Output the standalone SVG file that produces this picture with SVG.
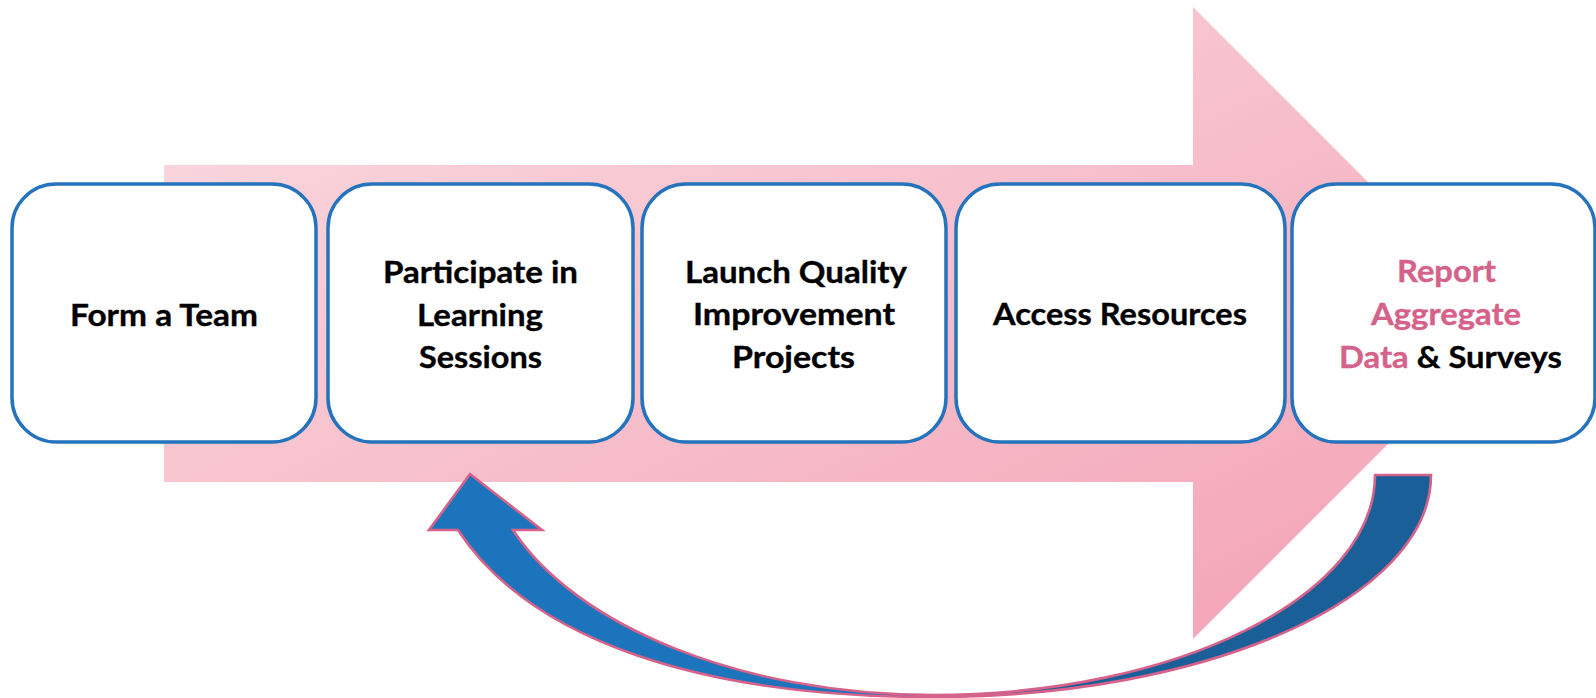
<svg xmlns="http://www.w3.org/2000/svg" width="1596" height="698" viewBox="0 0 1596 698">
  <defs>
    <linearGradient id="pinkGrad" x1="0" y1="0" x2="1" y2="1">
      <stop offset="0" stop-color="#FADCE2"/>
      <stop offset="1" stop-color="#F3A0B3"/>
    </linearGradient>
  </defs>
  <style>
    .box { fill: #FFFFFF; stroke: #2473BC; stroke-width: 3.5; }
    .lbl { font-family: Lato, "Open Sans", "Liberation Sans", sans-serif; font-weight: bold; font-size: 30px; fill: #000000; stroke: #000000; stroke-width: 0.35; }
    .pk { fill: #D5628A; stroke: #D5628A; }
    .band-l { fill: #1C75BC; stroke: none; }
    .band-r { fill: #1A5F98; stroke: none; }
    .outline { fill: none; stroke: #D5628A; stroke-width: 2.6; stroke-linejoin: miter; }
  </style>
  <rect width="1596" height="698" fill="#FFFFFF"/>

  <g id="process-arrow">
    <path d="M164,165 L1193,165 L1193,7 L1509,323 L1193,639 L1193,482 L164,482 Z" fill="url(#pinkGrad)"/>
  </g>

  <g id="connectors">
    <path class="band-l" d="M458,530 C530,640 700,697 933,697 L933,695 C740,695 575,625 513,530 L542,530 L470,474 L429,530 Z"/>
    <path class="band-r" d="M933,697 C1208,697 1431,598 1431,475 L1375,475 C1375,596 1177,695 933,695 Z"/>
    <path class="outline" d="M1375,475 C1375,596 1177,695 933,695 C740,695 575,625 513,530 L542,530 L470,474 L429,530 L458,530 C530,640 700,697 933,697 C1208,697 1431,598 1431,475 Z"/>
  </g>

  <g id="node-form-team">
    <rect class="box" x="12" y="184" width="304" height="258" rx="44" ry="44"/>
    <text class="lbl" x="70" y="326" textLength="188" lengthAdjust="spacingAndGlyphs">Form a Team</text>
  </g>

  <g id="node-learning-sessions">
    <rect class="box" x="328" y="184" width="305" height="258" rx="44" ry="44"/>
    <text class="lbl" x="383" y="283" textLength="195" lengthAdjust="spacingAndGlyphs">Participate in</text>
    <text class="lbl" x="417" y="326" textLength="126" lengthAdjust="spacingAndGlyphs">Learning</text>
    <text class="lbl" x="419" y="368" textLength="123" lengthAdjust="spacingAndGlyphs">Sessions</text>
  </g>

  <g id="node-qi-projects">
    <rect class="box" x="642" y="184" width="304" height="258" rx="44" ry="44"/>
    <text class="lbl" x="685" y="283" textLength="222" lengthAdjust="spacingAndGlyphs">Launch Quality</text>
    <text class="lbl" x="693" y="325" textLength="202" lengthAdjust="spacingAndGlyphs">Improvement</text>
    <text class="lbl" x="732" y="368" textLength="123" lengthAdjust="spacingAndGlyphs">Projects</text>
  </g>

  <g id="node-access-resources">
    <rect class="box" x="956" y="184" width="329" height="258" rx="44" ry="44"/>
    <text class="lbl" x="993" y="325" textLength="254" lengthAdjust="spacingAndGlyphs">Access Resources</text>
  </g>

  <g id="node-report-data">
    <rect class="box" x="1292" y="184" width="303" height="258" rx="44" ry="44"/>
    <text class="lbl pk" x="1397" y="282" textLength="99" lengthAdjust="spacingAndGlyphs">Report</text>
    <text class="lbl pk" x="1371" y="325" textLength="150" lengthAdjust="spacingAndGlyphs">Aggregate</text>
    <text class="lbl" x="1339" y="368" textLength="223" lengthAdjust="spacingAndGlyphs"><tspan class="pk">Data</tspan> &amp; Surveys</text>
  </g>
</svg>
